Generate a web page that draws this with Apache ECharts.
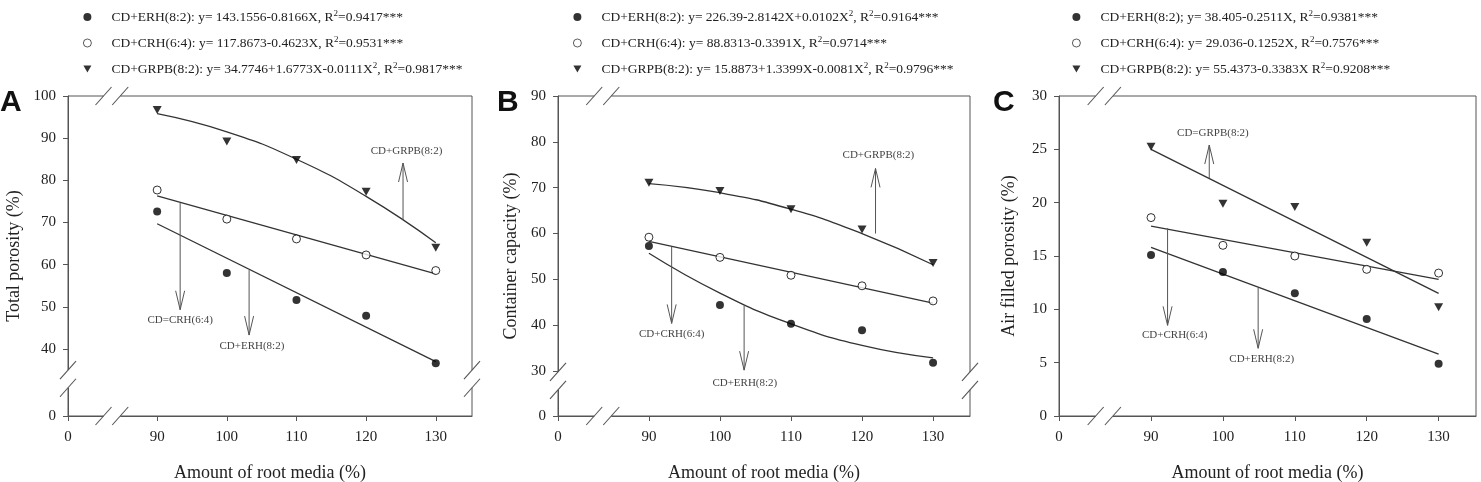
<!DOCTYPE html>
<html>
<head>
<meta charset="utf-8">
<script src="https://cdn.jsdelivr.net/npm/echarts@6/dist/echarts.min.js"></script>
<style>
  html, body { margin: 0; padding: 0; background: #fff; }
  #chart { width: 1481px; height: 482px; }
</style>
</head>
<body>
<div id="chart"></div>
<script>
// amount of root media (%)
const xValues = [90, 100, 110, 120, 130];
const xTicks = [90, 100, 110, 120, 130];
const fitEnds = [90, 130];
// axis runs from a "0" placed before the break
const xRange = [77.2, 135.2];
const xBreak = [82.3, 84.7];

// A - total porosity
const aErh = [72.6, 58.0, 51.6, 47.9, 36.6];
const aCrh = [77.7, 70.8, 66.1, 62.3, 58.6];
const aGrpb = [96.7, 89.2, 84.8, 77.3, 64.0];
const aErhFit = [69.7, 37.0];
const aCrhFit = [76.3, 57.8];
const aGrpbFit = [95.8, 91.5, 85.0, 76.2, 65.2];
const aYTicks = [40, 50, 60, 70, 80, 90, 100];
const aYRange = [24.1, 100];
const aYBreak = [30.8, 35.0];

// B - container capacity
const bErh = [57.3, 44.4, 40.3, 38.9, 31.8];
const bCrh = [59.2, 54.8, 50.9, 48.6, 45.3];
const bGrpb = [71.1, 69.3, 65.3, 60.9, 53.6];
const bErhFit = [55.7, 47.0, 40.3, 35.6, 32.9];
const bCrhFit = [58.3, 44.8];
const bGrpbFit = [70.9, 68.9, 65.3, 60.0, 53.2];
const bYTicks = [30, 40, 50, 60, 70, 80, 90];
const bYRange = [20.2, 90];
const bYBreak = [25.9, 29.8];

// C - air filled porosity
const cErh = [15.1, 13.5, 11.5, 9.1, 4.9];
const cCrh = [18.6, 16.0, 15.0, 13.75, 13.4];
const cGrpb = [25.25, 19.9, 19.6, 16.25, 10.2];
const cErhFit = [15.8, 5.8];
const cCrhFit = [17.8, 12.8];
const cGrpbFit = [25.0, 11.5];
const cYTicks = [0, 5, 10, 15, 20, 25, 30];
const cYRange = [0, 30];

const aLegend = [
  'CD+ERH(8:2): y= 143.1556-0.8166X, R{s|2}=0.9417***',
  'CD+CRH(6:4): y= 117.8673-0.4623X, R{s|2}=0.9531***',
  'CD+GRPB(8:2): y= 34.7746+1.6773X-0.0111X{s|2}, R{s|2}=0.9817***'
];
const bLegend = [
  'CD+ERH(8:2): y= 226.39-2.8142X+0.0102X{s|2}, R{s|2}=0.9164***',
  'CD+CRH(6:4): y= 88.8313-0.3391X, R{s|2}=0.9714***',
  'CD+GRPB(8:2): y= 15.8873+1.3399X-0.0081X{s|2}, R{s|2}=0.9796***'
];
const cLegend = [
  'CD+ERH(8:2); y= 38.405-0.2511X, R{s|2}=0.9381***',
  'CD+CRH(6:4): y= 29.036-0.1252X, R{s|2}=0.7576***',
  'CD+GRPB(8:2): y= 55.4373-0.3383X R{s|2}=0.9208***'
];

// arrow notes: label, x, line y, arrow tip y, label x, label y
const aNotes = [
  ['CD+GRPB(8:2)', 125.3, 70.6, 84.1, 125.8, 87.0],
  ['CD=CRH(6:4)', 93.3, 74.6, 49.3, 93.3, 46.9],
  ['CD+ERH(8:2)', 103.2, 58.7, 43.3, 103.6, 40.7]
];
const bNotes = [
  ['CD+GRPB(8:2)', 121.9, 60.0, 74.2, 122.3, 77.1],
  ['CD+CRH(6:4)', 93.2, 57.1, 40.4, 93.2, 38.1],
  ['CD+ERH(8:2)', 103.4, 44.3, 30.2, 103.5, 27.45]
];
const cNotes = [
  ['CD=GRPB(8:2)', 98.1, 22.3, 25.4, 98.6, 26.5],
  ['CD+CRH(6:4)', 92.3, 17.6, 8.5, 93.3, 7.6],
  ['CD+ERH(8:2)', 104.9, 12.0, 6.35, 105.4, 5.35]
];

const FONT = '"Liberation Serif", "Times New Roman", serif';
const AXIS = '#555';

const panels = [
  { letter: 'A', left: 68, width: 404, letterLeft: 0, legendLeft: 78,
    yRange: aYRange, yTicks: aYTicks, yBreak: aYBreak, yName: 'Total porosity (%)', yNameGap: 45,
    erh: aErh, crh: aCrh, grpb: aGrpb, erhFit: aErhFit, crhFit: aCrhFit, grpbFit: aGrpbFit,
    legend: aLegend, notes: aNotes },
  { letter: 'B', left: 558, width: 412, letterLeft: 497, legendLeft: 568,
    yRange: bYRange, yTicks: bYTicks, yBreak: bYBreak, yName: 'Container capacity (%)', yNameGap: 38,
    erh: bErh, crh: bCrh, grpb: bGrpb, erhFit: bErhFit, crhFit: bCrhFit, grpbFit: bGrpbFit,
    legend: bLegend, notes: bNotes },
  { letter: 'C', left: 1059, width: 417, letterLeft: 993, legendLeft: 1067,
    yRange: cYRange, yTicks: cYTicks, yBreak: null, yName: 'Air filled porosity (%)', yNameGap: 41,
    erh: cErh, crh: cCrh, grpb: cGrpb, erhFit: cErhFit, crhFit: cCrhFit, grpbFit: cGrpbFit,
    legend: cLegend, notes: cNotes }
];

const legendText = {};
const grids = [], xAxes = [], yAxes = [], series = [], legends = [], titles = [];

panels.forEach((p, i) => {
  grids.push({ left: p.left, width: p.width, top: 96, height: 320, outerBoundsMode: 'none',
    show: true, borderColor: AXIS, borderWidth: 1 });

  const xCustom = [xRange[0]].concat(xTicks);
  xAxes.push({
    gridIndex: i, type: 'value', min: xRange[0], max: xRange[1],
    axisLine: { show: true, lineStyle: { color: AXIS } },
    axisTick: { show: true, length: 5, customValues: xCustom, lineStyle: { color: AXIS } },
    axisLabel: { customValues: xCustom, formatter: v => (v < 80 ? '0' : String(v)), margin: 14,
      fontSize: 15, fontFamily: FONT, color: '#222' },
    splitLine: { show: false },
    name: 'Amount of root media (%)', nameLocation: 'middle', nameGap: 48,
    nameTextStyle: { fontSize: 18, fontFamily: FONT, color: '#222' }
  });

  const yCustom = p.yRange[0] === 0 ? p.yTicks : [p.yRange[0]].concat(p.yTicks);
  yAxes.push({
    gridIndex: i, type: 'value', min: p.yRange[0], max: p.yRange[1],
    axisLine: { show: true, lineStyle: { color: AXIS } },
    axisTick: { show: true, length: 5, customValues: yCustom, lineStyle: { color: AXIS } },
    axisLabel: { customValues: yCustom, formatter: v => (v === p.yRange[0] ? '0' : String(v)), margin: 12,
      fontSize: 15, fontFamily: FONT, color: '#222' },
    splitLine: { show: false },
    name: p.yName, nameLocation: 'middle', nameGap: p.yNameGap,
    nameTextStyle: { fontSize: 18, fontFamily: FONT, color: '#222' }
  });

  const names = [p.letter + '-ERH', p.letter + '-CRH', p.letter + '-GRPB'];
  names.forEach((n, k) => { legendText[n] = '{g|}' + p.legend[k]; });

  const pts = ys => ys.map((y, k) => [xValues[k], y]);
  const fitPts = ys => ys.map((y, k) => [ys.length === 2 ? fitEnds[k] : xValues[k], y]);
  const fitStyle = { color: '#333', width: 1.3 };

  [p.erhFit, p.crhFit, p.grpbFit].forEach(f => {
    series.push({ type: 'line', xAxisIndex: i, yAxisIndex: i, data: fitPts(f), smooth: f.length > 2,
      symbol: 'none', lineStyle: fitStyle, z: 2, silent: true });
  });

  series.push({ name: names[0], type: 'scatter', xAxisIndex: i, yAxisIndex: i, data: pts(p.erh),
    symbol: 'circle', symbolSize: 8, itemStyle: { color: '#000' }, z: 3 });
  series.push({ name: names[1], type: 'scatter', xAxisIndex: i, yAxisIndex: i, data: pts(p.crh),
    symbol: 'circle', symbolSize: 8, itemStyle: { color: '#fff', borderColor: '#000', borderWidth: 1 }, z: 3 });
  series.push({ name: names[2], type: 'scatter', xAxisIndex: i, yAxisIndex: i, data: pts(p.grpb),
    symbol: 'triangle', symbolRotate: 180, symbolSize: [9, 8], itemStyle: { color: '#000' }, z: 3 });

  legends.push({
    orient: 'vertical', left: p.legendLeft, top: 4, itemWidth: 8, itemHeight: 8, itemGap: 10,
    selectedMode: false,
    data: [
      { name: names[0], icon: 'circle' },
      { name: names[1], icon: 'circle', itemStyle: { borderWidth: 0.8 } },
      { name: names[2], icon: 'path://M0,0L10,0L5,9Z' }
    ],
    formatter: n => legendText[n],
    textStyle: {
      fontSize: 13.5, fontFamily: FONT, color: '#222', lineHeight: 16,
      rich: { g: { width: 15 }, s: { fontSize: 9, fontFamily: FONT, verticalAlign: 'top', color: '#222' } }
    }
  });

  titles.push({ text: p.letter, left: p.letterLeft, top: 88, padding: 0,
    textStyle: { fontSize: 30, fontWeight: 'bold', fontFamily: '"Liberation Sans", Arial, sans-serif', color: '#111' } });
});

const option = {
  animation: false,
  backgroundColor: '#fff',
  title: titles,
  legend: legends,
  grid: grids,
  xAxis: xAxes,
  yAxis: yAxes,
  series: series
};

const chart = echarts.init(document.getElementById('chart'));
chart.setOption(option);

function slash(c) {
  return { type: 'line', z: 101, shape: { x1: c[0] - 8, y1: c[1] + 9, x2: c[0] + 8, y2: c[1] - 9 },
    style: { stroke: AXIS, lineWidth: 1.1 } };
}

function buildGraphics() {
  const g = [];
  panels.forEach((p, i) => {
    const px = (x, y) => chart.convertToPixel({ gridIndex: i }, [x, y]);
    // breaks in bottom and top edges
    [p.yRange[0], p.yRange[1]].forEach(yv => {
      const a = px(xBreak[0], yv), b = px(xBreak[1], yv);
      g.push({ type: 'rect', z: 100, shape: { x: a[0], y: a[1] - 3, width: b[0] - a[0], height: 6 }, style: { fill: '#fff' } });
      g.push(slash(a), slash(b));
    });
    // breaks in left and right edges
    if (p.yBreak) {
      [xRange[0], xRange[1]].forEach(xv => {
        const a = px(xv, p.yBreak[1]), b = px(xv, p.yBreak[0]);
        g.push({ type: 'rect', z: 100, shape: { x: a[0] - 3, y: a[1], width: 6, height: b[1] - a[1] }, style: { fill: '#fff' } });
        g.push(slash(a), slash(b));
      });
    }
    p.notes.forEach(([label, x, yFrom, yTo, tx, ty]) => {
      const a = px(x, yFrom), b = px(x, yTo), t = px(tx, ty);
      const dir = a[1] > b[1] ? 1 : -1;
      g.push({ type: 'line', z: 50, shape: { x1: a[0], y1: a[1], x2: b[0], y2: b[1] }, style: { stroke: '#555', lineWidth: 1 } });
      g.push({ type: 'polyline', z: 50,
        shape: { points: [[b[0] - 4.5, b[1] + dir * 19], [b[0], b[1]], [b[0] + 4.5, b[1] + dir * 19]] },
        style: { stroke: '#555', fill: 'none', lineWidth: 1 } });
      g.push({ type: 'text', z: 50, x: t[0], y: t[1],
        style: { text: label, font: '11px "Liberation Serif"', fill: '#444', align: 'center', verticalAlign: 'middle' } });
    });
  });
  return g;
}

chart.setOption({ graphic: buildGraphics() });
</script>
</body>
</html>
